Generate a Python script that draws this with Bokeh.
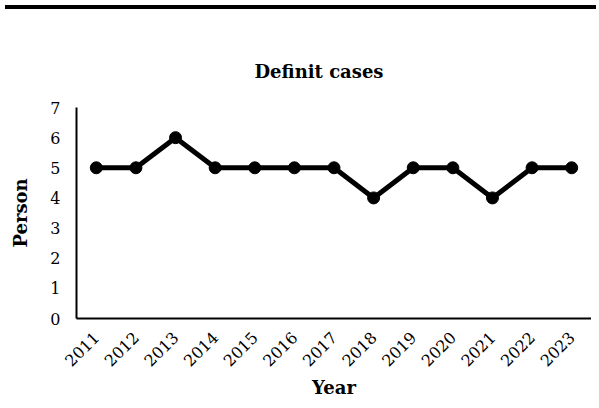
import math
from bokeh.plotting import figure
from bokeh.models import Div, FactorRange, Range1d, FixedTicker
from bokeh.layouts import column
from bokeh.embed import file_html
from bokeh.resources import INLINE

years = ["2011", "2012", "2013", "2014", "2015", "2016", "2017",
         "2018", "2019", "2020", "2021", "2022", "2023"]
cases = [5, 5, 6, 5, 5, 5, 5, 4, 5, 5, 4, 5, 5]
y_ticks = [0, 1, 2, 3, 4, 5, 6, 7]

SERIF = "DejaVu Serif"

p = figure(x_range=FactorRange(*years), y_range=Range1d(0, 7),
           width=591, height=388, output_backend="svg", toolbar_location=None,
           min_border_left=76, min_border_right=0, min_border_top=93,
           min_border_bottom=84)
p.x_range.range_padding = 0

p.title.text = "Definit cases"
p.title.align = "left"
p.title.offset = 178
p.title.text_font = SERIF
p.title.text_font_size = "18px"
p.title.text_font_style = "bold"
p.title.text_color = "black"
p.title.standoff = 51

p.line(years, cases, line_color="black", line_width=5)
p.scatter(years, cases, size=12, fill_color="black", line_color="black")

p.xgrid.visible = False
p.ygrid.visible = False
p.outline_line_color = None

for ax in (p.xaxis[0], p.yaxis[0]):
    ax.axis_line_color = "black"
    ax.axis_line_width = 2
    ax.major_tick_line_color = None
    ax.minor_tick_line_color = None
    ax.major_label_text_font = SERIF
    ax.major_label_text_font_size = "16px"
    ax.major_label_text_color = "black"
    ax.axis_label_text_font = SERIF
    ax.axis_label_text_font_size = "18px"
    ax.axis_label_text_font_style = "bold"
    ax.axis_label_text_color = "black"

p.yaxis.ticker = FixedTicker(ticks=y_ticks)
p.yaxis.major_label_standoff = 10
p.yaxis.axis_label = "Person"
p.yaxis.axis_label_standoff = 16

p.xaxis.major_label_orientation = math.pi / 4
p.xaxis.major_label_standoff = 10
p.xaxis.axis_label = "Year"
p.xaxis.axis_label_standoff = 2

bar = Div(text="", width=591, height=4, styles={"background-color": "black"})
layout = column(bar, p, spacing=0)

open("out.html", "w").write(file_html(layout, INLINE))
